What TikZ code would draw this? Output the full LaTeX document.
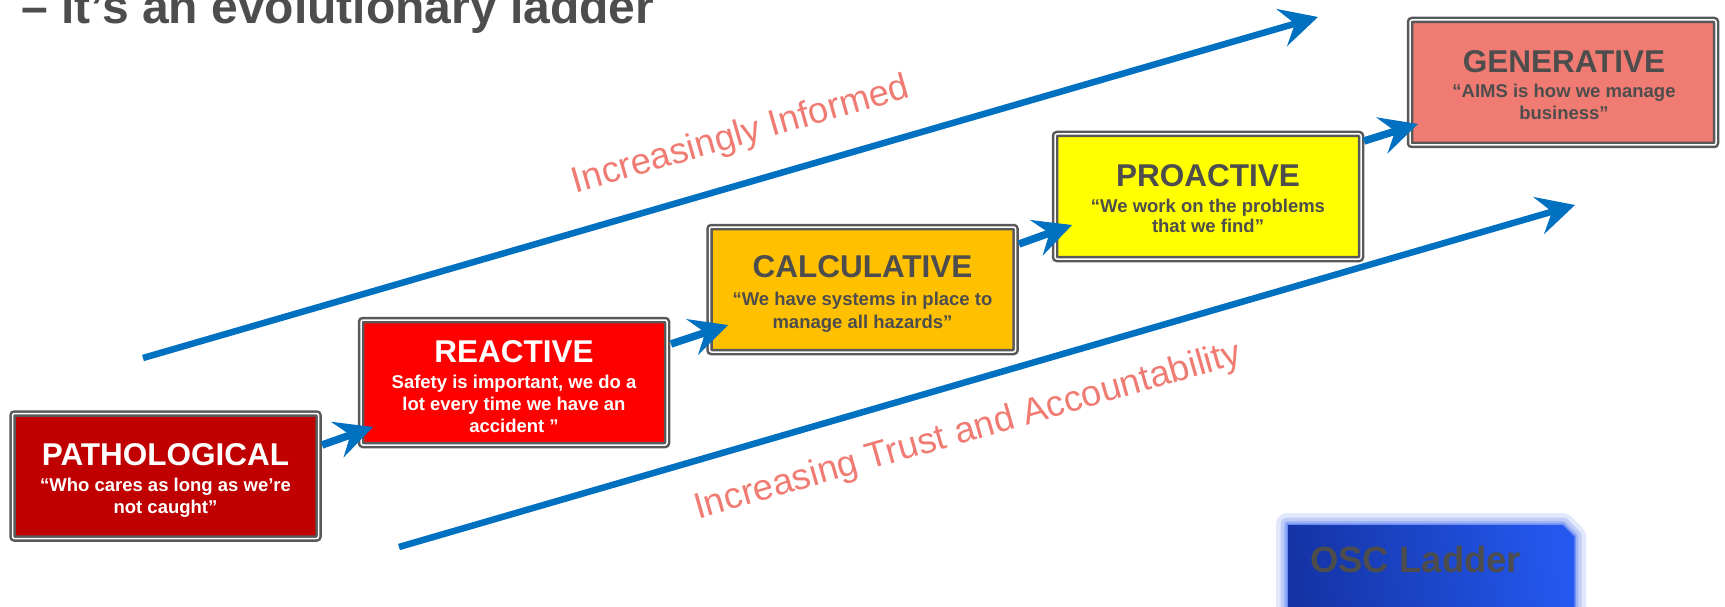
\documentclass[tikz,border=0pt]{standalone}
\usepackage{fontspec}
\setmainfont{Liberation Sans}
\usetikzlibrary{arrows.meta,calc}
\definecolor{ink}{HTML}{4D4D4D}
\definecolor{frame}{HTML}{595959}
\definecolor{arrowblue}{HTML}{0070C0}
\definecolor{cPath}{HTML}{C00000}
\definecolor{cReact}{HTML}{FF0000}
\definecolor{cCalc}{HTML}{FFC000}
\definecolor{cPro}{HTML}{FFFF00}
\definecolor{cGen}{HTML}{F07B72}
\definecolor{salmon}{HTML}{F07B72}
\definecolor{oscdark}{HTML}{1434A6}
\definecolor{osclight}{HTML}{2458EE}
\definecolor{oscglow}{HTML}{8AA4F2}
\definecolor{oscedge}{HTML}{6F8EF5}
\begin{document}
\begin{tikzpicture}[x=1pt,y=-1pt,
  stagebox/.style={draw=frame, line width=2.5pt, double=white, double distance=1.5pt,
    rounded corners=2pt, minimum width=306pt, minimum height=125pt, inner sep=0pt, outer sep=0pt, fill=#1},
  stagetitle/.style={anchor=base, inner sep=0pt, font=\fontsize{31.5}{37}\selectfont\bfseries},
  stagesub/.style={anchor=base, inner sep=0pt, font=\fontsize{18.5}{22}\selectfont\bfseries},
  conn/.style={draw=arrowblue, line width=7.5pt, -{Stealth[length=38pt,width=38pt,inset=14pt,line width=0pt]}},
  bigarrow/.style={draw=arrowblue, line width=6.5pt, -{Stealth[length=38pt,width=39pt,inset=14pt,line width=0pt]}},
  trend/.style={inner sep=0pt, text=salmon, rotate=16, font=\fontsize{36.5}{40}\selectfont}
]
\useasboundingbox (0,0) rectangle (1725,607);
\clip (0,0) rectangle (1725,607);
\fill[white] (0,0) rectangle (1725,607);

% heading
\node[anchor=base west, inner sep=0pt, text=ink, font=\fontsize{48}{54}\selectfont\bfseries] (heading) at (21,24) {– it’s an evolutionary ladder};

% big arrows
\coordinate (infoA) at (143,358);
\coordinate (infoB) at (1318,17);
\coordinate (trustA) at (399,547);
\coordinate (trustB) at (1575,205);
\draw[bigarrow] (infoA) -- (infoB);
\draw[bigarrow] (trustA) -- (trustB);

\node[trend] (informed) at (741,136) {Increasingly Informed};
\node[trend] (trust) at (968,432) {Increasing Trust and Accountability};

% stage boxes
\node[stagebox=cPath] (P) at (165.5,476) {};
\node[stagebox=cReact] (R) at (514,382.5) {};
\node[stagebox=cCalc] (C) at (862.5,289.5) {};
\node[stagebox=cPro] (Pr) at (1208,196.5) {};
\node[stagebox=cGen] (G) at (1563,82.5) {};

% texts
\node[stagetitle, text=white] (Pt) at (165.5,465) {PATHOLOGICAL};
\node[stagesub, text=white] (Ps1) at (165.5,491) {“Who cares as long as we’re};
\node[stagesub, text=white] (Ps2) at (165.5,513) {not caught”};

\node[stagetitle, text=white] (Rt) at (514,362) {REACTIVE};
\node[stagesub, text=white] (Rs1) at (514,388) {Safety is important, we do a};
\node[stagesub, text=white] (Rs2) at (514,410) {lot every time we have an};
\node[stagesub, text=white] (Rs3) at (514,432) {accident ”};

\node[stagetitle, text=ink] (Ct) at (862.5,277) {CALCULATIVE};
\node[stagesub, text=ink] (Cs1) at (862.5,305) {“We have systems in place to};
\node[stagesub, text=ink] (Cs2) at (862.5,328) {manage all hazards”};

\node[stagetitle, text=ink] (Prt) at (1208,186) {PROACTIVE};
\node[stagesub, text=ink] (Prs1) at (1208,212) {“We work on the problems};
\node[stagesub, text=ink] (Prs2) at (1208,233) {that we find”};

\node[stagetitle, text=ink] (Gt) at (1564,73) {GENERATIVE};
\node[stagesub, text=ink] (Gs1) at (1564,98) {“AIMS is how we manage};
\node[stagesub, text=ink] (Gs2) at (1564,120) {business”};

% connectors
\draw[conn] ($(P.east)+(3.5,-31)$) -- ($(R.west)+(12,44.5)$);
\draw[conn] ($(R.east)+(4,-38.5)$) -- ($(C.west)+(18.5,35.5)$);
\draw[conn] ($(C.east)+(3.5,-45.5)$) -- ($(Pr.west)+(17,28.5)$);
\draw[conn] ($(Pr.east)+(3,-55.5)$) -- ($(G.west)+(8,41.5)$);

% OSC Ladder button
\path[draw=oscglow, line width=22pt, opacity=0.25, line join=round]
  (1287,524) -- (1563,524) -- (1575,536) -- (1575,620) -- (1287,620) -- cycle;
\path[draw=oscglow, line width=13pt, opacity=0.4, line join=round]
  (1287,524) -- (1563,524) -- (1575,536) -- (1575,620) -- (1287,620) -- cycle;
\path[draw=oscglow, line width=6pt, opacity=0.6, line join=round]
  (1287,524) -- (1563,524) -- (1575,536) -- (1575,620) -- (1287,620) -- cycle;
\shade[left color=oscdark, right color=osclight, shading angle=100]
  (1287,524) -- (1563,524) -- (1575,536) -- (1575,620) -- (1287,620) -- cycle;
\draw[oscedge, line width=1.5pt]
  (1287,524) -- (1563,524) -- (1575,536) -- (1575,620) -- (1287,620) -- cycle;
\node[anchor=base west, inner sep=0pt, text=ink, font=\fontsize{36.5}{40}\selectfont\bfseries] (osc) at (1310,572) {OSC Ladder};
\end{tikzpicture}
\end{document}
